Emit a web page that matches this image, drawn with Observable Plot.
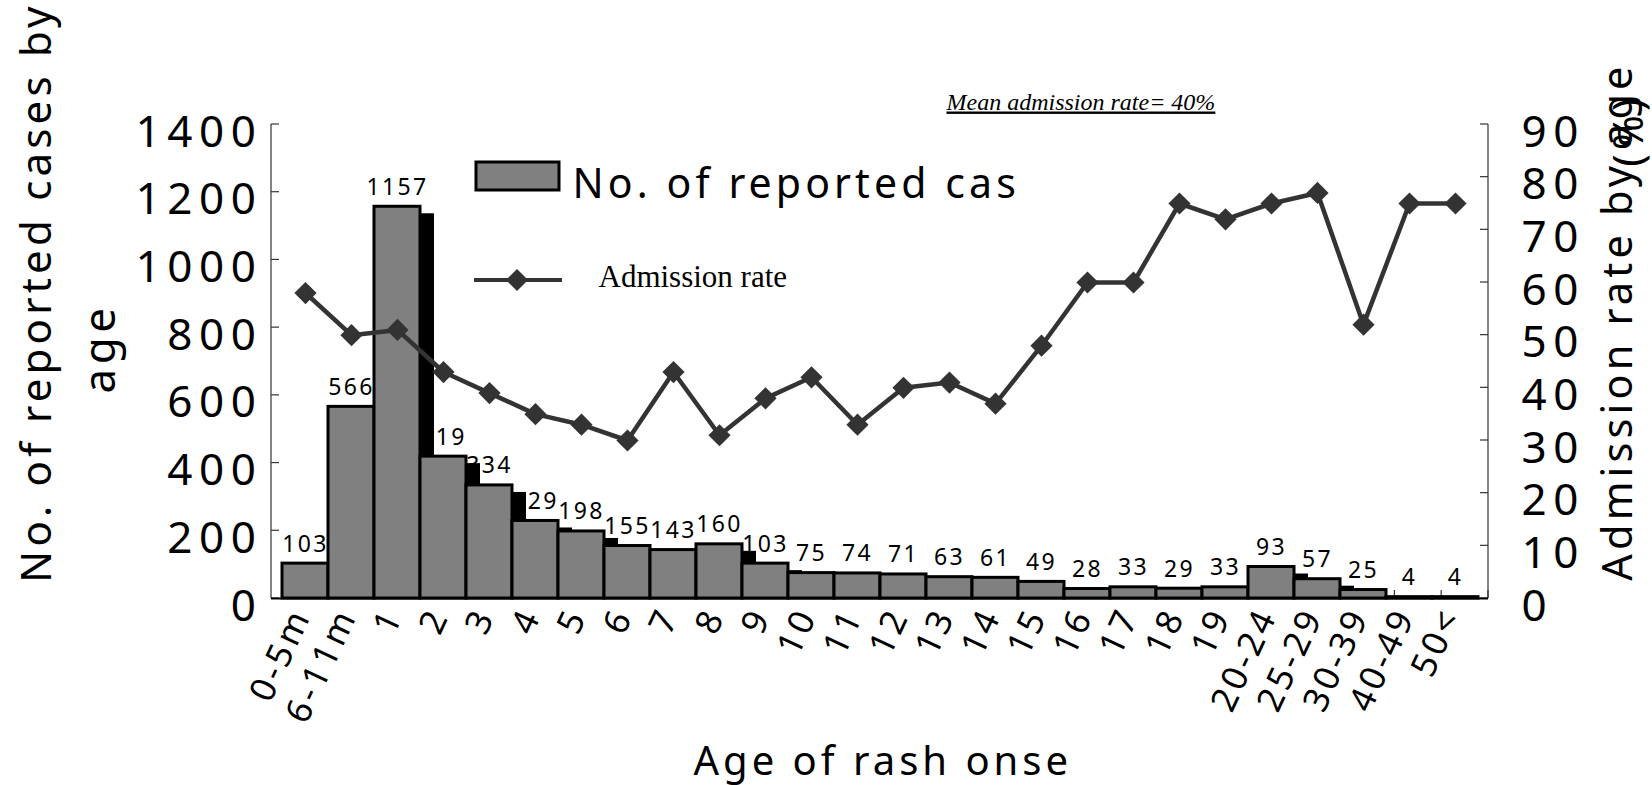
<!DOCTYPE html>
<html><head><meta charset="utf-8">
<script src="https://cdn.jsdelivr.net/npm/d3@7"></script>
<script src="https://cdn.jsdelivr.net/npm/@observablehq/plot@0.6"></script>
<style>
body{margin:0;background:#fff;}
#chart svg text{letter-spacing:0.1em;}
#chart svg g.ytick text{letter-spacing:0.15em;}
</style>
</head><body><div id="chart"></div>
<script>
// ---- data ----
const ages = ["0-5m","6-11m","1","2","3","4","5","6","7","8","9","10","11","12","13","14","15","16","17","18","19","20-24","25-29","30-39","40-49","50<"];
const cases = [103,566,1157,419,334,229,198,155,143,160,103,75,74,71,63,61,49,28,33,29,33,93,57,25,4,4];
const rates = [58,50,51,43,39,35,33,30,43,31,38,42,33,40,41,37,48,60,60,75,72,75,77,52,75,75];
const casesTicks = [0,200,400,600,800,1000,1200,1400];
const rateTicks = [0,10,20,30,40,50,60,70,80,90];
const meanRate = 40;

const yMax = 1400, rMax = 90, k = yMax / rMax;
const data = ages.map((a, i) => ({age: a, cases: cases[i], rate: rates[i]}));

const W = 1652, H = 785, ml = 271, mr = 164, mt = 124, mb = 187;
const sans = "'Noto Sans', 'DejaVu Sans', sans-serif";
const serif = "'Liberation Serif', 'DejaVu Serif', serif";

function frameDecor(index, scales, values, dims) {
  const g = d3.create("svg:g").attr("stroke", "#333").attr("stroke-width", 1.2);
  const x0 = dims.marginLeft, x1 = dims.width - dims.marginRight;
  const yb = dims.height - dims.marginBottom, yt = dims.marginTop;
  g.append("line").attr("x1", x0).attr("x2", x0).attr("y1", yt).attr("y2", yb);
  g.append("line").attr("x1", x1).attr("x2", x1).attr("y1", yt).attr("y2", yb);
  for (const v of casesTicks) { const y = scales.y(v); g.append("line").attr("x1", x0).attr("x2", x0 + 8).attr("y1", y).attr("y2", y); }
  for (const v of rateTicks) { const y = scales.y(v * k); g.append("line").attr("x1", x1).attr("x2", x1 - 8).attr("y1", y).attr("y2", y); }
  const n = ages.length, bw = (x1 - x0) / n;
  for (let i = 1; i <= n; i++) { const x = x0 + i * bw; g.append("line").attr("x1", x).attr("x2", x).attr("y1", yb).attr("y2", yb - 8); }
  return g.node();
}

function legend(index, scales, values, dims) {
  const g = d3.create("svg:g");
  const fx = dims.marginLeft, fy = dims.marginTop;
  g.append("rect").attr("x", fx + 205).attr("y", fy + 38).attr("width", 83).attr("height", 28)
    .attr("fill", "#808080").attr("stroke", "black").attr("stroke-width", 3);
  g.append("line").attr("x1", fx + 203).attr("x2", fx + 291).attr("y1", fy + 156).attr("y2", fy + 156)
    .attr("stroke", "#333").attr("stroke-width", 4);
  g.append("path").attr("transform", `translate(${fx + 246},${fy + 156})`)
    .attr("d", d3.symbol(d3.symbolDiamond2, 314)()).attr("fill", "#333");
  return g.node();
}

const chart = Plot.plot({
  width: W, height: H,
  marginLeft: ml, marginRight: mr, marginTop: mt, marginBottom: mb,
  style: {fontFamily: sans, background: "white", color: "black", overflow: "visible"},
  x: {domain: ages, padding: 0, axis: null},
  y: {domain: [0, yMax], axis: null},
  marks: [
    frameDecor,
    Plot.text(data, {x: "age", y: "cases", text: d => String(d.cases), dy: -12, lineAnchor: "bottom", fontSize: 23, fill: "black"}),
    Plot.barY(data, {x: "age", y: "cases", fill: "black", dx: 14, insetTop: 7}),
    Plot.barY(data, {x: "age", y: "cases", fill: "#808080", stroke: "black", strokeWidth: 3}),
    Plot.ruleY([0], {stroke: "black", strokeWidth: 2}),
    Plot.line(data, {x: "age", y: d => d.rate * k, stroke: "#333", strokeWidth: 4.5}),
    Plot.dot(data, {x: "age", y: d => d.rate * k, symbol: "diamond2", r: 10, fill: "#333", stroke: "none"}),
    Plot.axisY(casesTicks, {anchor: "left", tickSize: 0, tickPadding: 9, fontSize: 44, dy: 8, label: null, className: "ytick", tickFormat: d => String(d)}),
    Plot.axisY(rateTicks.map(v => v * k), {anchor: "right", tickSize: 0, tickPadding: 33, fontSize: 44, dy: 8, label: null, className: "ytick", tickFormat: d => String(Math.round(d / k))}),
    Plot.axisX({anchor: "bottom", tickSize: 0, tickPadding: 12, tickRotate: -65, fontSize: 35, dx: -4, label: null}),
    legend,
    Plot.text(["No. of reported cas"], {frameAnchor: "top-left", textAnchor: "start", lineAnchor: "bottom", dx: 301, dy: 73, fontSize: 41}),
    Plot.text(["Admission rate"], {frameAnchor: "top-left", textAnchor: "start", lineAnchor: "bottom", dx: 327, dy: 162, fontSize: 31, fontFamily: serif}),
    Plot.text([`Mean admission rate= ${meanRate}%`], {frameAnchor: "top-left", textAnchor: "start", lineAnchor: "bottom", dx: 675, dy: -15, fontSize: 24, fontFamily: serif, fontStyle: "italic"}),
    Plot.text(["No. of reported cases by"], {frameAnchor: "left", textAnchor: "middle", rotate: -90, dx: -234, dy: -69, fontSize: 42}),
    Plot.text(["age"], {frameAnchor: "left", textAnchor: "middle", rotate: -90, dx: -171, dy: -13, fontSize: 44}),
    Plot.text(["Admission rate by age"], {frameAnchor: "right", textAnchor: "middle", rotate: -90, dx: 130, dy: -40, fontSize: 41.5}),
    Plot.text(["(%)"], {frameAnchor: "top-right", textAnchor: "middle", rotate: -90, dx: 125, dy: 6, fontSize: 42}),
    Plot.text(["Age of rash onse"], {frameAnchor: "bottom-left", textAnchor: "start", lineAnchor: "bottom", dx: 422, dy: 176, fontSize: 40})
  ]
});

d3.select(chart).selectAll("text").filter(function () { return this.textContent.startsWith("Mean"); })
  .style("text-decoration", "underline").style("letter-spacing", "0");
d3.select(chart).selectAll("text").filter(function () { return this.textContent === "Admission rate"; })
  .style("letter-spacing", "0");
document.getElementById("chart").appendChild(chart);
</script>
</body></html>
